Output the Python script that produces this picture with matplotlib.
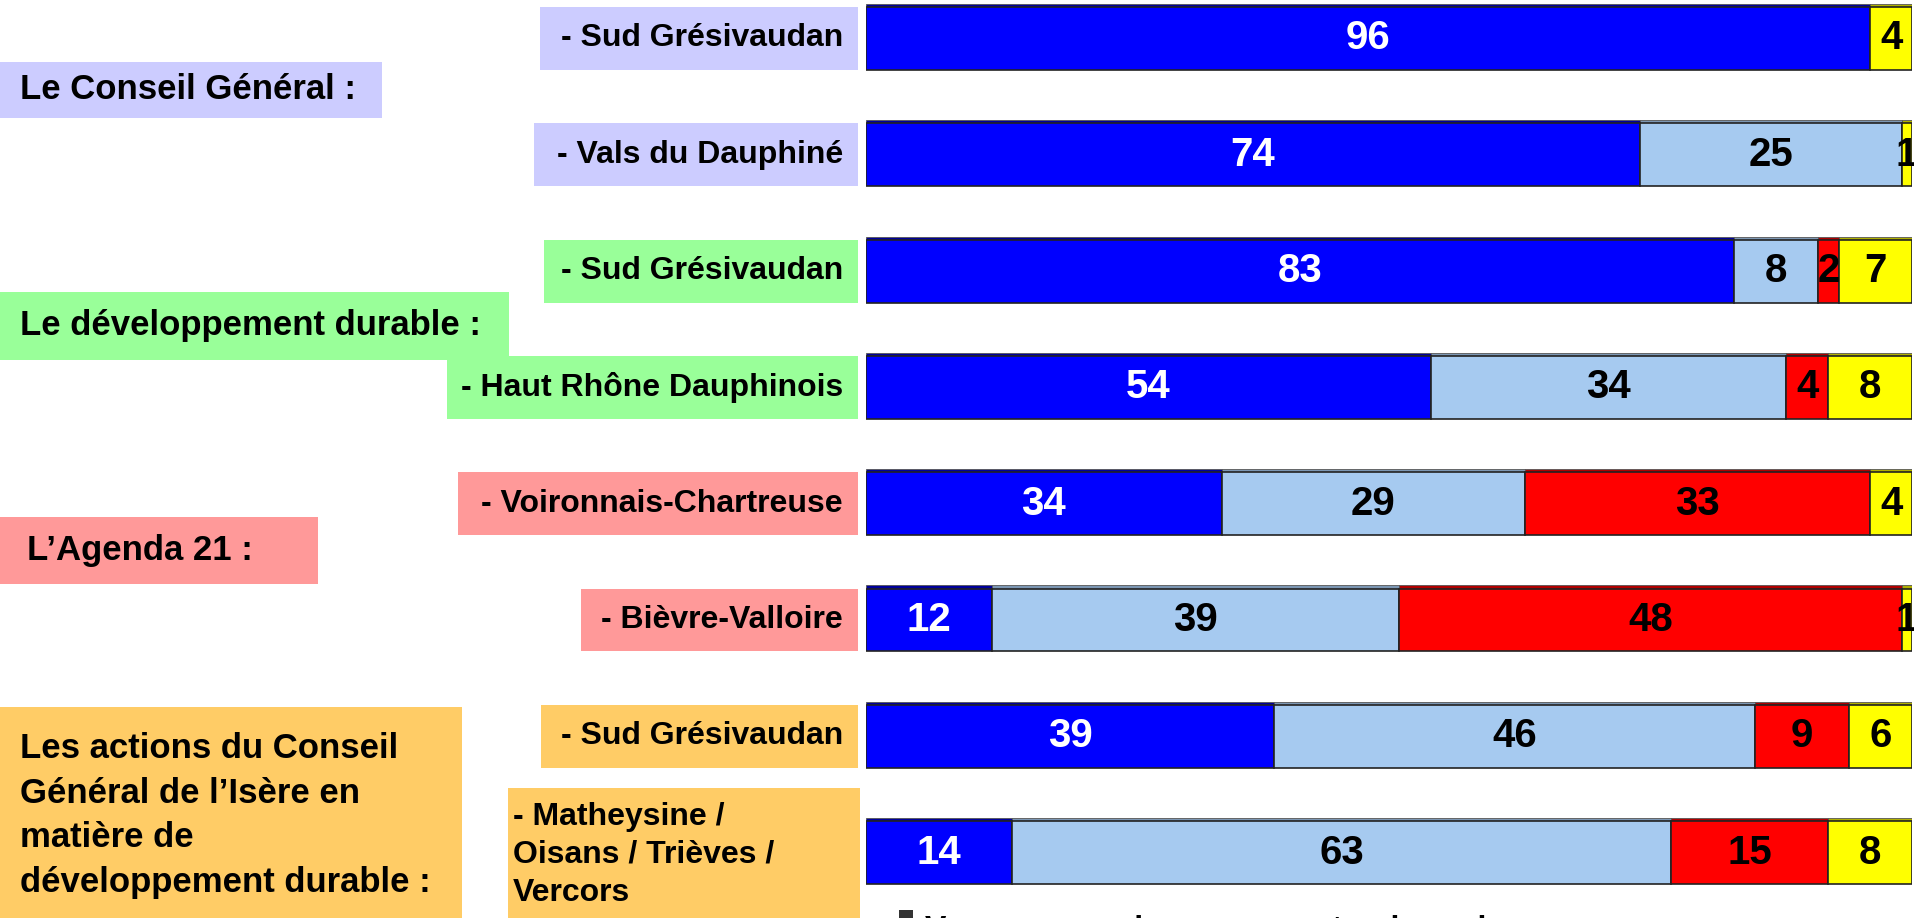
import numpy as np
import matplotlib.pyplot as plt
import matplotlib.transforms as mtransforms
from matplotlib.patches import Rectangle

plt.rcParams['font.family'] = ['Liberation Sans', 'DejaVu Sans']
plt.rcParams['font.weight'] = 'bold'

# Réponses (%) par territoire
territoires = ['- Sud Grésivaudan', '- Vals du Dauphiné', '- Sud Grésivaudan',
               '- Haut Rhône Dauphinois', '- Voironnais-Chartreuse', '- Bièvre-Valloire',
               '- Sud Grésivaudan', '- Matheysine /\nOisans / Trièves /\nVercors']
beaucoup = [96, 74, 83, 54, 34, 12, 39, 14]
peu = [0, 25, 8, 34, 29, 39, 46, 63]
jamais = [0, 0, 2, 4, 33, 48, 9, 15]
nsp = [4, 1, 7, 8, 4, 1, 6, 8]

series = [beaucoup, peu, jamais, nsp]
couleurs = ['#0000FF', '#A6CAF0', '#FF0000', '#FFFF00']
couleurs_txt = ['white', 'black', 'black', 'black']
hauts = ['#00009A', '#7C97B4', '#B00000', '#B0B000']

# couleur de fond des étiquettes de territoire
fonds_lignes = ['#CCCCFF', '#CCCCFF', '#99FF99', '#99FF99',
                '#FF9999', '#FF9999', '#FFCC66', '#FFCC66']
# bord gauche des étiquettes (pixels)
gauche_lignes = [540, 534, 544, 447, 458, 581, 541, 508]

groupes = ['Le Conseil Général :', 'Le développement durable :', 'L\u2019Agenda 21 :',
           'Les actions du Conseil\nGénéral de l\u2019Isère en\nmatière de\ndéveloppement durable :']
fonds_groupes = ['#CCCCFF', '#99FF99', '#FF9999', '#FFCC66']

W, H = 1915, 918
fig = plt.figure(figsize=(W / 100, H / 100), dpi=100)
ax = fig.add_axes([866 / W, 0, 1046 / W, 1])
ax.set_xlim(0, 100)
ax.set_ylim(7.562, -0.331)
ax.axis('off')

y = np.arange(len(territoires))
h = 0.54
left = np.zeros(len(y))
for vals, c, ct, ch in zip(series, couleurs, couleurs_txt, hauts):
    vals = np.array(vals, dtype=float)
    ax.barh(y, vals, left=left, height=h, color=c, edgecolor='#222222', linewidth=1.2, zorder=2)
    ax.barh(y - h / 2 - 0.012, vals, left=left, height=0.03, color=ch, edgecolor='#555555',
            linewidth=0.6, zorder=1)
    for i, v in enumerate(vals):
        if v > 0:
            ax.text(left[i] + v / 2, y[i], f'{int(v)}', ha='center', va='center',
                    color=ct, fontsize=29, fontweight='bold', zorder=3)
    left += vals

# étiquettes des territoires
tr = mtransforms.blended_transform_factory(fig.transFigure, ax.transData)
for i, (nom, fond, gx) in enumerate(zip(territoires, fonds_lignes, gauche_lignes)):
    if i < 7:
        r = Rectangle((gx / W, y[i] - 0.27), (858 - gx) / W, 0.54, transform=tr,
                      facecolor=fond, edgecolor='none', clip_on=False)
        fig.add_artist(r)
        fig.text(843 / W, y[i], nom, transform=tr, ha='right', va='center',
                 fontsize=23, fontweight='bold')
    else:
        r = Rectangle((gx / W, 6.44), (860 - gx) / W, 1.5, transform=tr,
                      facecolor=fond, edgecolor='none', clip_on=False)
        fig.add_artist(r)
        fig.text(513 / W, y[i] + 0.02, nom, transform=tr, ha='left', va='center',
                 fontsize=23, fontweight='bold', linespacing=1.36)

# blocs de thèmes
pos_groupes = [(0.44, 0.48, 382, 20), (2.47, 0.58, 509, 20), (4.4, 0.58, 318, 27)]
for (yc, hh, wd, tx), nom, fond in zip(pos_groupes, groupes[:3], fonds_groupes[:3]):
    fig.add_artist(Rectangle((0, yc - hh / 2), wd / W, hh, transform=tr,
                             facecolor=fond, edgecolor='none', clip_on=False))
    fig.text(tx / W, yc, nom, transform=tr, ha='left', va='center',
             fontsize=25, fontweight='bold')
fig.add_artist(Rectangle((0, 5.75), 462 / W, 2.0, transform=tr,
                         facecolor=fonds_groupes[3], edgecolor='none', clip_on=False))
fig.text(20 / W, 6.68, groupes[3], transform=tr, ha='left', va='center',
         fontsize=25, fontweight='bold', linespacing=1.45)

# légende (coupée en bas)
fig.add_artist(Rectangle((899 / W, -8 / H), 14 / W, 16 / H, transform=fig.transFigure,
                         facecolor='#333333', edgecolor='none'))
fig.text(925 / W, -20 / H, 'Vous en avez beaucoup entendu parler', ha='left',
         va='baseline', fontsize=23, fontweight='bold')

fig.savefig('out.png', dpi=100)
